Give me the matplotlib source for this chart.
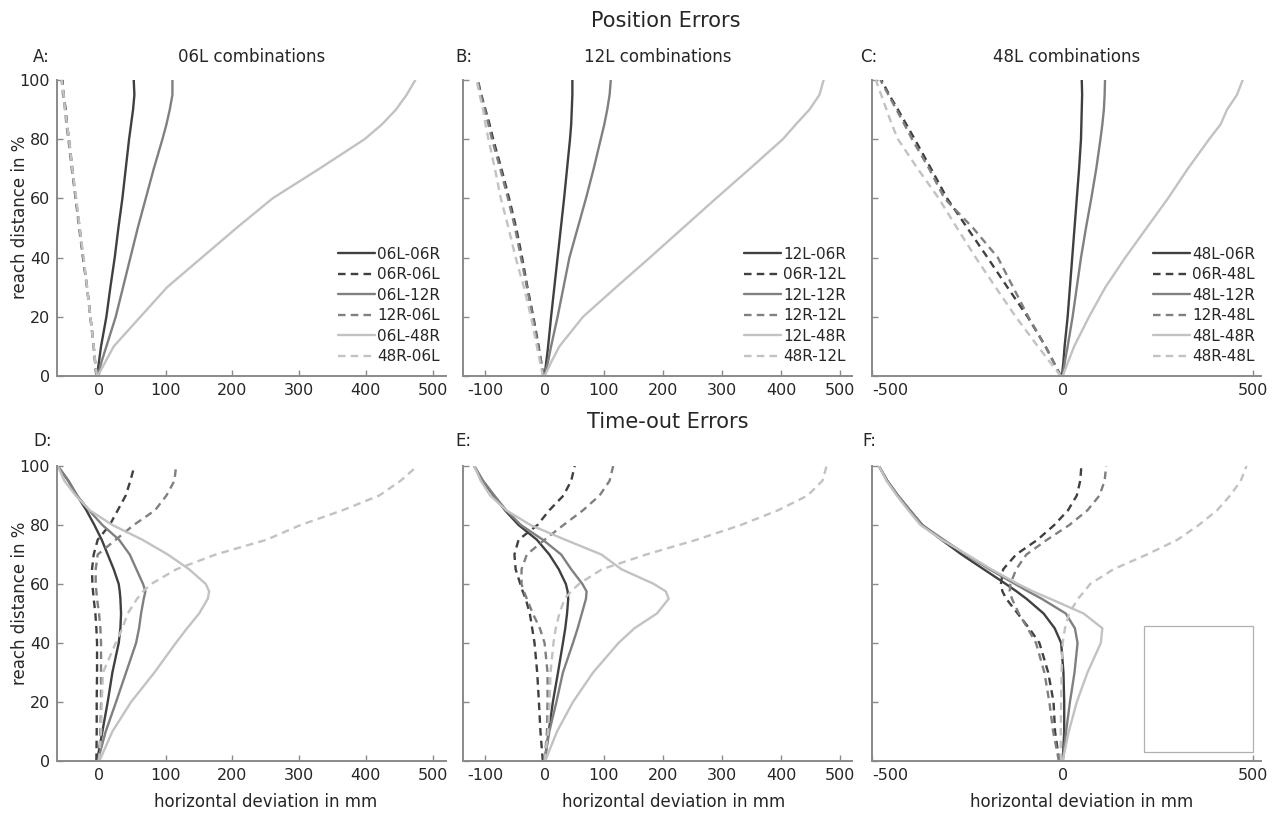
import matplotlib.pyplot as plt
from matplotlib.patches import Rectangle

plt.rcParams['axes.unicode_minus'] = False

# reach distance (%) at which the deviations were read
REACH_TOP = [0, 5, 10, 20, 30, 40, 50, 60, 70, 80, 85, 90, 95, 100]
REACH_BOT = [0, 10, 20, 30, 40, 45, 50, 55, 57.5, 60, 65, 70, 75, 80, 85, 90, 95, 100]

# ---- Position errors (top row) ----
lab_a = ['06L-06R', '06R-06L', '06L-12R', '12R-06L', '06L-48R', '48R-06L']
a_06l_06r = [-3, 0, 3, 11, 17, 23.5, 29, 35, 40, 45, 48, 51, 53, 52]
a_06r_06l = [-4, -6, -8, -13, -18, -24, -29, -35, -40, -45, -48, -50, -53, -55]
a_06l_12r = [-2, 4, 11, 25, 36, 47, 58, 70, 82, 95, 101, 106, 110, 110]
a_12r_06l = [-4, -6, -8, -13, -18, -24, -30, -35, -41, -46, -49, -51, -54, -56]
a_06l_48r = [-2, 10, 22, 62, 102, 154, 206, 260, 330, 398, 424, 445, 461, 474]
a_48r_06l = [-3, -6, -8, -13, -18, -23, -29, -34, -40, -45, -48, -51, -53, -56]

lab_b = ['12L-06R', '06R-12L', '12L-12R', '12R-12L', '12L-48R', '48R-12L']
b_12l_06r = [0, 3, 6, 11, 16.5, 22, 27.5, 33, 38, 43, 45, 46, 47, 47]
b_06r_12l = [-2, -6, -10, -19, -29, -38, -48, -60, -73, -87, -93, -100, -107, -113]
b_12l_12r = [0, 6, 11, 22, 32, 42, 56, 70, 83, 95, 101, 106, 110, 112]
b_12r_12l = [-2, -6, -11, -20, -30, -40, -50, -62, -75, -89, -95, -101, -108, -113]
b_12l_48r = [0, 12, 25, 65, 121, 178, 234, 290, 347, 403, 425, 448, 465, 472]
b_48r_12l = [-3, -8, -13, -23, -35, -49, -61, -74, -84, -95, -100, -104, -110, -115]

lab_c = ['48L-06R', '06R-48L', '48L-12R', '12R-48L', '48L-48R', '48R-48L']
c_48l_06r = [-2, 2, 5, 13, 19, 25, 31, 37, 43, 48, 49, 50, 51, 50]
c_06r_48l = [-5, -25, -45, -92, -145, -197, -250, -303, -345, -388, -410, -432, -455, -475]
c_48l_12r = [0, 6, 13, 26, 37, 48, 61, 75, 88, 99, 104, 108, 110, 111]
c_12r_48l = [-5, -25, -45, -90, -130, -170, -235, -310, -350, -395, -415, -436, -457, -478]
c_48l_48r = [0, 15, 30, 69, 112, 164, 220, 276, 328, 384, 414, 431, 457, 472]
c_48r_48l = [-5, -35, -65, -123, -176, -228, -277, -325, -380, -432, -448, -462, -476, -490]

# ---- Time-out errors (bottom row) ----
d_06l_06r = [-3, 5, 13, 20, 29.5, 32, 33, 32, 31, 29.5, 22, 13, 4, -7, -19, -33, -46, -62]
d_06r_06l = [-4, -3.5, -3.5, -3, -3, -4, -5.5, -8, -9, -10, -10.5, -8, -2, 16, 28, 40, 47, 53]
d_06l_12r = [-2, 10, 25.5, 40.5, 55.5, 60, 63, 67, 69.5, 66, 56, 46, 30, 5, -15, -33, -46, -62]
d_12r_06l = [0, 2, 3, 3, 3, 2, 0, -3, -4, -5, -5, -2, 25, 52, 84, 101, 113, 115.5]
d_06l_48r = [0.5, 20, 48, 83, 115, 132, 150, 163, 165, 160, 135, 103, 65, 20, -14, -35, -52, -62]
d_48r_06l = [0, 3, 4, 6, 25, 35, 43, 57, 66, 78, 116, 175, 251, 302, 365, 420, 452, 477]

e_12l_06r = [0, 7, 14, 22.7, 31, 35, 38, 40, 39, 36, 24, 8, -13, -44, -67, -86, -105, -119]
e_06r_12l = [-3, -7, -9.6, -12.5, -17, -21, -25, -32, -37, -41, -49, -51, -44, -12, 8, 32, 45, 51]
e_12l_12r = [0, 8, 20, 31, 48, 56, 63, 70, 71, 64, 45, 28, -3, -40, -65, -85, -104, -119]
e_12r_12l = [0, 4, 5, 5, 0, -8, -20, -30, -35, -39, -39, -30, 0, 32, 65, 93, 110, 116]
e_12l_48r = [1, 21, 48, 82, 125, 152, 190, 210, 205, 185, 130, 96, 35, -24, -65, -92, -108, -119]
e_48r_12l = [0, 6, 8.5, 10, 15, 19, 25, 34, 45, 58, 97, 172, 257, 332, 395, 445, 470, 477]

f_48l_06r = [0, 4, 4, 2, -4, -21, -50, -95, -121, -149, -207, -265, -318, -368, -401, -432, -460, -482]
f_06r_48l = [-9, -20, -24, -38, -61, -88, -118, -148, -158, -162, -156, -122, -66, -22, 14, 37, 46, 49]
f_48l_12r = [0, 9, 19, 31, 39, 32, 8, -55, -91, -125, -192, -254, -312, -368, -400, -432, -460, -482]
f_12r_48l = [-10, -25, -35, -48, -70, -92, -115, -133, -139, -137, -122, -95, -41, 17.5, 65, 96.5, 110, 114]
f_48l_48r = [0, 16, 37, 65, 100, 104, 55, -33, -78, -117, -187, -251, -317, -373, -405, -435, -462, -482]
f_48r_48l = [-5, -5, -4, -3, 0, 6, 17, 40, 57, 72, 133, 221, 301, 357, 405, 439, 467, 482]

DARK, MID, LIGHT = '#404040', '#808080', '#c2c2c2'
STYLES = [(DARK, '-'), (DARK, '--'), (MID, '-'), (MID, '--'), (LIGHT, '-'), (LIGHT, '--')]
AXCOL = '#8a8a8a'
TXT = '#262626'

W, H = 1284, 814
fig = plt.figure(figsize=(W / 100, H / 100), dpi=100)


def px_ax(left, top, right, bottom):
    return fig.add_axes([left / W, 1 - bottom / H, (right - left) / W, (bottom - top) / H])


def setup(ax, xlim, xticks, show_y):
    ax.set_xlim(xlim)
    ax.set_ylim(0, 100)
    ax.set_xticks(xticks)
    ax.set_yticks([0, 20, 40, 60, 80, 100])
    if not show_y:
        ax.set_yticklabels([])
    for s in ['top', 'right']:
        ax.spines[s].set_visible(False)
    for s in ['left', 'bottom']:
        ax.spines[s].set_color(AXCOL)
        ax.spines[s].set_linewidth(1.4)
    ax.tick_params(direction='in', length=4, width=1, color=AXCOL,
                   labelcolor=TXT, labelsize=11.5, pad=5)
    ax.patch.set_alpha(0)
    if xticks[0] == -500:
        # leftmost label sits to the right of its tick, as in the original
        ax.get_xticklabels()[0].set_horizontalalignment('left')


def draw(ax, reach, series, labels=None):
    for i, xs in enumerate(series):
        col, ls = STYLES[i]
        kw = dict(color=col, lw=1.7, solid_capstyle='round')
        if ls == '--':
            kw['dashes'] = (3.2, 2.2)
        ax.plot(xs, reach, label=labels[i] if labels else None, **kw)
    if labels:
        ax.legend(loc='lower right', bbox_to_anchor=(0.985, 0.04), frameon=False,
                  fontsize=11, handlelength=2.4, handletextpad=0.15,
                  labelspacing=0.36, borderaxespad=0.0, borderpad=0.0,
                  labelcolor=TXT)


LIM_A = (-63, 520)
LIM_B = (-138, 520)
LIM_C = (-500, 520)
TK_A = [0, 100, 200, 300, 400, 500]
TK_B = [-100, 0, 100, 200, 300, 400, 500]
TK_C = [-500, 0, 500]

cols = [(57, 446), (463, 852), (872, 1261)]
rows = [(80, 376), (466, 761)]

axA = px_ax(cols[0][0], rows[0][0], cols[0][1], rows[0][1])
axB = px_ax(cols[1][0], rows[0][0], cols[1][1], rows[0][1])
axC = px_ax(cols[2][0], rows[0][0], cols[2][1], rows[0][1])
axD = px_ax(cols[0][0], rows[1][0], cols[0][1], rows[1][1])
axE = px_ax(cols[1][0], rows[1][0], cols[1][1], rows[1][1])
axF = px_ax(cols[2][0], rows[1][0], cols[2][1], rows[1][1])

setup(axA, LIM_A, TK_A, True)
setup(axB, LIM_B, TK_B, False)
setup(axC, LIM_C, TK_C, False)
setup(axD, LIM_A, TK_A, True)
setup(axE, LIM_B, TK_B, False)
setup(axF, LIM_C, TK_C, False)

draw(axA, REACH_TOP, [a_06l_06r, a_06r_06l, a_06l_12r, a_12r_06l, a_06l_48r, a_48r_06l], lab_a)
draw(axB, REACH_TOP, [b_12l_06r, b_06r_12l, b_12l_12r, b_12r_12l, b_12l_48r, b_48r_12l], lab_b)
draw(axC, REACH_TOP, [c_48l_06r, c_06r_48l, c_48l_12r, c_12r_48l, c_48l_48r, c_48r_48l], lab_c)
draw(axD, REACH_BOT, [d_06l_06r, d_06r_06l, d_06l_12r, d_12r_06l, d_06l_48r, d_48r_06l])
draw(axE, REACH_BOT, [e_12l_06r, e_06r_12l, e_12l_12r, e_12r_12l, e_12l_48r, e_48r_12l])
draw(axF, REACH_BOT, [f_48l_06r, f_06r_48l, f_48l_12r, f_12r_48l, f_48l_48r, f_48r_48l])

# empty legend frame left in panel F
axF.add_patch(Rectangle((0.699, 0.03), 0.28, 0.427, transform=axF.transAxes,
                        fill=False, edgecolor='#b0b0b0', lw=0.9))


def ftext(x, y, s, **kw):
    fig.text(x / W, 1 - y / H, s, color=TXT, **kw)


ftext(666, 21, 'Position Errors', fontsize=15, ha='center', va='center')
ftext(668, 422, 'Time-out Errors', fontsize=15, ha='center', va='center')

for (x0, x1), name in zip(cols, ['06L combinations', '12L combinations', '48L combinations']):
    ftext((x0 + x1) / 2, 57, name, fontsize=12, ha='center', va='center')
for x, letter in zip([33, 455, 860], ['A:', 'B:', 'C:']):
    ftext(x, 57, letter, fontsize=12, ha='left', va='center')
for x, letter in zip([33, 455, 862], ['D:', 'E:', 'F:']):
    ftext(x, 441, letter, fontsize=12, ha='left', va='center')

for yc in [217, 603]:
    ftext(20, yc, 'reach distance in %', fontsize=12, ha='center', va='center', rotation=90)
for xc in [266, 674, 1082]:
    ftext(xc, 802, 'horizontal deviation in mm', fontsize=12, ha='center', va='center')

fig.savefig('out.png', dpi=100)
